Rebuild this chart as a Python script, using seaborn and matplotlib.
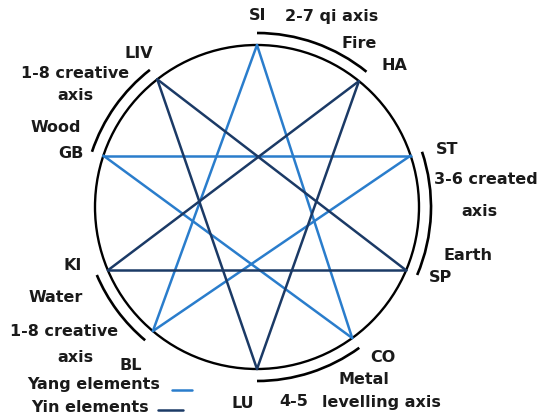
import numpy as np
import pandas as pd
import matplotlib
matplotlib.use("Agg")
import matplotlib.pyplot as plt
from matplotlib.patches import Circle, Arc
import seaborn as sns

# node angles on the circle (degrees, counter-clockwise from east)
nodes = ["SI", "HA", "ST", "SP", "CO", "LU", "BL", "KI", "GB", "LIV"]
node_angles = [90, 51, 18.5, -23, -54, -90, -130, -157, 161.5, 128]

# star edges
yang_edges = [("SI", "CO"), ("SI", "BL"), ("ST", "BL"), ("ST", "GB"), ("CO", "GB")]
yin_edges = [("HA", "LU"), ("HA", "KI"), ("SP", "KI"), ("SP", "LIV"), ("LU", "LIV")]

# outer arcs between node pairs
arc_pairs = [("HA", "SI"), ("LIV", "GB"), ("SP", "ST"), ("KI", "BL"), ("LU", "CO")]

# labels (text, x, y)
labels = [
    ("SI", 258, 16), ("2-7 qi axis", 332, 16), ("Fire", 359, 43), ("HA", 394, 66),
    ("LIV", 139, 54), ("1-8 creative", 75, 73), ("axis", 75, 95), ("Wood", 56, 128),
    ("GB", 71, 154), ("ST", 447, 150), ("3-6 created", 486, 180), ("axis", 479, 212),
    ("Earth", 468, 255), ("SP", 441, 278), ("CO", 383, 357), ("Metal", 364, 380),
    ("4-5", 294, 402), ("levelling axis", 381, 402), ("LU", 243, 403),
    ("KI", 73, 265), ("Water", 56, 297), ("1-8 creative", 64, 332), ("axis", 75, 357),
    ("BL", 131, 365),
]
legend_items = [("Yang elements", 94, 384), ("Yin elements", 90, 407)]

YANG = "#2a7dcc"
YIN = "#1b3a66"
CX, CY, R, R_ARC = 257, 207, 162, 174

sns.set_style("white")
plt.rcParams['font.family'] = ['DejaVu Sans']

angle_of = dict(zip(nodes, node_angles))

def pos(name):
    a = np.radians(angle_of[name])
    return CX + R * np.cos(a), CY - R * np.sin(a)

rows = []
for kind, edges in [("Yang", yang_edges), ("Yin", yin_edges)]:
    for i, (a, b) in enumerate(edges):
        for n in (a, b):
            x, y = pos(n)
            rows.append({"x": x, "y": y, "kind": kind, "edge": f"{kind}{i}"})
df = pd.DataFrame(rows)

fig = plt.figure(figsize=(5.39, 4.18), dpi=100)
ax = fig.add_axes([0, 0, 1, 1])

sns.lineplot(data=df, x="x", y="y", hue="kind", units="edge", estimator=None,
             sort=False, palette={"Yang": YANG, "Yin": YIN}, linewidth=1.8,
             legend=False, ax=ax)

ax.add_patch(Circle((CX, CY), R, fill=False, color="black", lw=1.7))
for a, b in arc_pairs:
    # y axis inverted, so flip angles
    t1, t2 = -angle_of[b], -angle_of[a]
    ax.add_patch(Arc((CX, CY), 2 * R_ARC, 2 * R_ARC, theta1=min(t1, t2), theta2=max(t1, t2),
                     color="black", lw=1.9))

for txt, x, y in labels + legend_items:
    ax.text(x, y, txt, ha="center", va="center", fontsize=11.5, fontweight="bold",
            color="#1a1a1a")

ax.plot([172, 192], [390, 390], color=YANG, lw=1.8)
ax.plot([158, 183], [410, 410], color=YIN, lw=1.8)

ax.set_xlim(0, 539)
ax.set_ylim(418, 0)
ax.axis("off")
fig.savefig("out.png", dpi=100)
